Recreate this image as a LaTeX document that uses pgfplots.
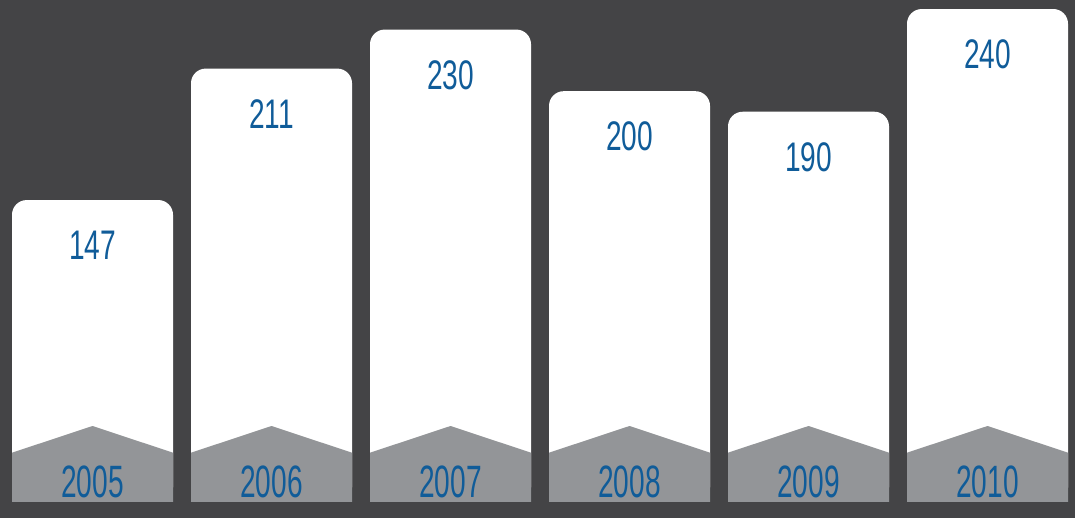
\documentclass[border=0pt]{standalone}
\usepackage{fontspec}
\usepackage{pgfplots}
\pgfplotsset{compat=1.18}
\newfontfamily\valfont{Liberation Sans}[FakeStretch=0.68]
\newfontfamily\yearfont{Liberation Sans}[FakeStretch=0.62]
\definecolor{bg}{RGB}{68,68,70}
\definecolor{chev}{RGB}{147,149,152}
\definecolor{lblue}{RGB}{16,92,153}
\begin{document}
\begin{tikzpicture}
\fill[bg] (0,0) rectangle (806.25pt,388.5pt);
\begin{axis}[
  at={(0,0)}, anchor=south west,
  scale only axis, width=806.25pt, height=388.5pt,
  xmin=-0.5168, xmax=5.4888, ymin=-7.79, ymax=244.4,
  axis line style={draw=none}, tick style={draw=none},
  axis on top,
  ytick=\empty,
  xtick={0,1,2,3,4,5},
  xticklabels={2005,2006,2007,2008,2009,2010},
  xticklabel style={anchor=center, yshift=27pt, text=lblue, font=\yearfont\fontsize{34}{34}\selectfont},
  /pgf/number format/assume math mode=true,
  clip=false,
]
\addplot[ybar, bar width=120.75pt, fill=white, draw=none, rounded corners=11pt,
  nodes near coords,
  every node near coord/.append style={anchor=center, yshift=-34pt, text=lblue, font=\valfont\fontsize{31}{31}\selectfont}]
  coordinates {(0,147) (1,211) (2,230) (3,200) (4,190) (5,240)};
\addplot[fill=chev, draw=none] coordinates {(-0.4497,0) (-0.4497,24) (0,37) (0.4497,24) (0.4497,0)} -- cycle;
\addplot[fill=chev, draw=none] coordinates {(0.5503,0) (0.5503,24) (1,37) (1.4497,24) (1.4497,0)} -- cycle;
\addplot[fill=chev, draw=none] coordinates {(1.5503,0) (1.5503,24) (2,37) (2.4497,24) (2.4497,0)} -- cycle;
\addplot[fill=chev, draw=none] coordinates {(2.5503,0) (2.5503,24) (3,37) (3.4497,24) (3.4497,0)} -- cycle;
\addplot[fill=chev, draw=none] coordinates {(3.5503,0) (3.5503,24) (4,37) (4.4497,24) (4.4497,0)} -- cycle;
\addplot[fill=chev, draw=none] coordinates {(4.5503,0) (4.5503,24) (5,37) (5.4497,24) (5.4497,0)} -- cycle;
\end{axis}
\end{tikzpicture}
\end{document}
